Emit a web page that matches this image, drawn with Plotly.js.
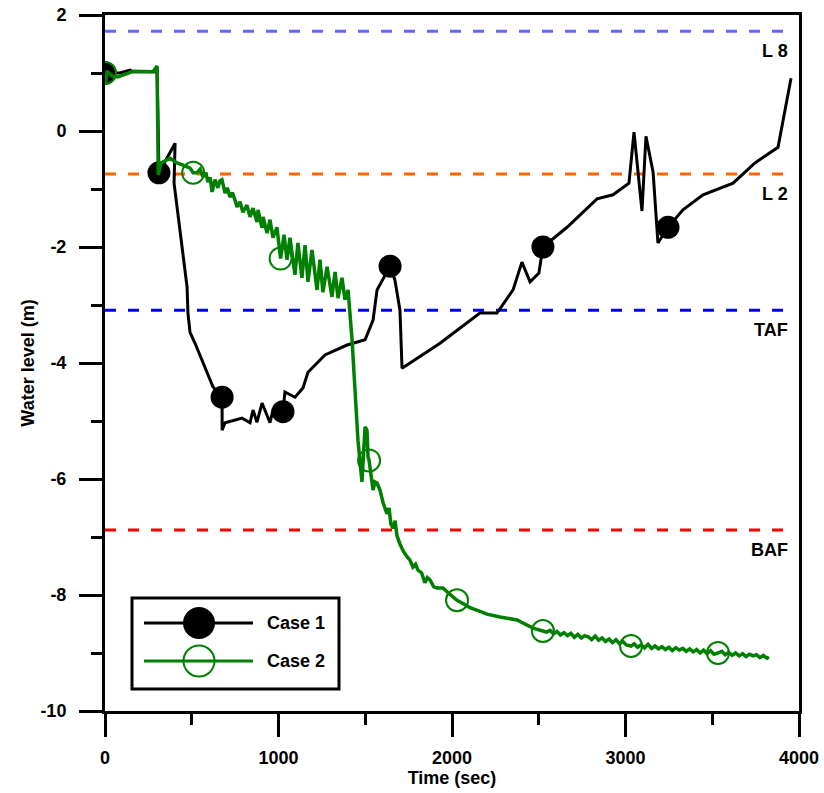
<!DOCTYPE html>
<html>
<head>
<meta charset="utf-8">
<script src="https://cdn.plot.ly/plotly-3.0.1.min.js"></script>
<style>
  html, body { margin: 0; padding: 0; background: #ffffff; }
  #chart { width: 824px; height: 793px; }
</style>
</head>
<body>
<div id="chart"></div>
<script>
// Case 1: water level history (time in s, level in m)
const caseOneTime = [0, 86, 144, 161, 288, 300, 311, 404, 398, 432, 473, 478, 490, 519, 622, 675, 675, 692, 790, 836, 853, 876, 905, 951, 968, 1026, 1037, 1095, 1141, 1170, 1268, 1395, 1499, 1545, 1568, 1643, 1671, 1700, 1712, 1931, 2161, 2259, 2352, 2403, 2450, 2501, 2513, 2524, 2663, 2836, 2928, 3020, 3049, 3095, 3118, 3159, 3187, 3245, 3331, 3447, 3620, 3746, 3879, 3954];
const caseOneLevel = [1.00, 1.00, 1.05, 1.02, 1.02, 1.09, -0.72, -0.21, -0.90, -1.76, -2.69, -3.14, -3.47, -3.66, -4.41, -4.59, -5.16, -5.03, -4.95, -5.03, -4.81, -5.02, -4.69, -5.03, -4.81, -4.84, -4.50, -4.59, -4.43, -4.16, -3.86, -3.69, -3.60, -3.26, -2.74, -2.33, -2.57, -3.09, -4.09, -3.66, -3.14, -3.14, -2.74, -2.26, -2.60, -2.45, -2.17, -2.00, -1.66, -1.17, -1.10, -0.90, -0.02, -1.38, -0.09, -0.71, -1.93, -1.66, -1.36, -1.10, -0.90, -0.55, -0.28, 0.91];
const caseOneMarkerTimes = [0, 311, 675, 1026, 1643, 2524, 3245];

// Case 2: water level history
const caseTwoTime = [0, 3, 11, 40, 75, 161, 277, 300, 307, 323, 375, 415, 450, 490, 508, 530, 548, 565, 580, 594, 606, 617, 634, 651, 662, 674, 692, 705, 720, 734, 749, 761, 778, 795, 818, 836, 853, 876, 882, 905, 911, 934, 951, 968, 991, 1012, 1032, 1049, 1066, 1095, 1112, 1135, 1153, 1170, 1193, 1222, 1239, 1256, 1280, 1308, 1326, 1343, 1366, 1383, 1401, 1412, 1424, 1441, 1458, 1481, 1487, 1499, 1510, 1516, 1522, 1527, 1539, 1545, 1556, 1568, 1585, 1602, 1625, 1637, 1648, 1660, 1672, 1683, 1700, 1720, 1741, 1758, 1775, 1790, 1804, 1825, 1844, 1858, 1873, 1895, 1914, 1948, 1985, 2029, 2065, 2104, 2150, 2202, 2277, 2375, 2420, 2467, 2524, 2545, 2565, 2585, 2605, 2625, 2645, 2665, 2685, 2705, 2725, 2745, 2765, 2785, 2805, 2825, 2845, 2865, 2885, 2905, 2925, 2945, 2965, 2985, 3005, 3032, 3050, 3070, 3090, 3110, 3130, 3150, 3170, 3190, 3210, 3230, 3250, 3270, 3290, 3310, 3330, 3350, 3370, 3390, 3410, 3430, 3450, 3470, 3490, 3510, 3533, 3555, 3575, 3595, 3615, 3635, 3655, 3675, 3695, 3715, 3735, 3755, 3775, 3795, 3815, 3827];
const caseTwoLevel = [1.00, 0.83, 1.03, 0.95, 0.93, 1.03, 1.02, 1.12, -0.76, -0.55, -0.47, -0.55, -0.59, -0.64, -0.72, -0.72, -0.66, -0.79, -0.72, -0.88, -0.80, -1.05, -0.84, -0.98, -0.86, -0.84, -1.07, -0.98, -1.14, -1.06, -1.19, -1.31, -1.22, -1.40, -1.28, -1.48, -1.33, -1.57, -1.36, -1.67, -1.48, -1.76, -1.53, -1.84, -1.66, -2.20, -1.79, -2.22, -1.84, -2.48, -1.93, -2.53, -1.97, -2.60, -2.05, -2.74, -2.22, -2.78, -2.34, -2.86, -2.43, -2.88, -2.53, -2.91, -2.74, -3.09, -3.60, -4.47, -5.33, -6.05, -5.72, -5.10, -5.16, -5.62, -5.68, -5.79, -6.07, -6.19, -6.05, -6.07, -6.19, -6.40, -6.60, -6.50, -6.78, -6.85, -6.72, -6.98, -7.12, -7.25, -7.34, -7.40, -7.52, -7.47, -7.57, -7.62, -7.79, -7.70, -7.74, -7.86, -7.88, -7.88, -7.98, -8.09, -8.15, -8.22, -8.27, -8.33, -8.38, -8.43, -8.50, -8.57, -8.62, -8.64, -8.61, -8.67, -8.63, -8.69, -8.65, -8.70, -8.66, -8.73, -8.68, -8.74, -8.70, -8.72, -8.77, -8.71, -8.78, -8.74, -8.80, -8.76, -8.82, -8.77, -8.84, -8.80, -8.86, -8.88, -8.84, -8.90, -8.86, -8.91, -8.85, -8.92, -8.88, -8.93, -8.89, -8.94, -8.90, -8.96, -8.91, -8.95, -8.92, -8.97, -8.93, -8.98, -8.94, -9.00, -8.95, -9.01, -8.96, -9.02, -9.00, -8.97, -9.03, -8.99, -9.04, -9.00, -9.05, -9.01, -9.06, -9.02, -9.05, -9.03, -9.08, -9.04, -9.09, -9.07];
const caseTwoMarkerTimes = [0, 508, 1012, 1522, 2029, 2524, 3032, 3533];

// Reference levels
const refNames = ['L 8', 'L 2', 'TAF', 'BAF'];
const refLevels = [1.72, -0.74, -3.09, -6.88];
const refColors = ['#6666ff', '#ff6600', '#0000ff', '#ff0000'];
const refSpan = [0, 3940];

const seriesNames = ['Case 1', 'Case 2'];
const xTickVals = [0, 1000, 2000, 3000, 4000];
const yTickVals = [-10, -8, -6, -4, -2, 0, 2];
const yTickText = ['-10', '-8', '-6', '-4', '-2', '0', '2'];

const GREEN = '#008000';
const FONT = { family: 'Liberation Sans, Arial, sans-serif', size: 18, color: '#000000', weight: 'bold' };

function pick(times, levels, wanted) {
  const xs = [], ys = [];
  wanted.forEach(t => { const i = times.indexOf(t); xs.push(times[i]); ys.push(levels[i]); });
  return { x: xs, y: ys };
}

const traces = [];
refLevels.forEach((lv, i) => {
  traces.push({
    type: 'scatter', mode: 'lines', name: refNames[i], showlegend: false, hoverinfo: 'skip',
    x: refSpan, y: [lv, lv],
    line: { color: refColors[i], width: 3, dash: '11px,12px' }
  });
});

const m1 = pick(caseOneTime, caseOneLevel, caseOneMarkerTimes);
const m2 = pick(caseTwoTime, caseTwoLevel, caseTwoMarkerTimes);

traces.push({ type: 'scatter', mode: 'lines', name: seriesNames[0], showlegend: false,
  x: caseOneTime, y: caseOneLevel, line: { color: '#000000', width: 3 } });
traces.push({ type: 'scatter', mode: 'markers', name: seriesNames[0], showlegend: false,
  x: m1.x, y: m1.y, marker: { symbol: 'circle', size: 23, color: '#000000', line: { width: 0 } } });
traces.push({ type: 'scatter', mode: 'lines', name: seriesNames[1], showlegend: false,
  x: caseTwoTime, y: caseTwoLevel, line: { color: GREEN, width: 3.5 } });
traces.push({ type: 'scatter', mode: 'markers', name: seriesNames[1], showlegend: false,
  x: m2.x, y: m2.y, marker: { symbol: 'circle-open', size: 22, color: GREEN, line: { width: 2, color: GREEN } } });

// plot area geometry (pixels) used to place the hand-built legend box
const M = { l: 105, r: 25, t: 15, b: 82 };
const W = 824, H = 793;
const PW = W - M.l - M.r, PH = H - M.t - M.b;
const px = v => (v - M.l) / PW;
const py = v => (H - M.b - v) / PH;

const shapes = [
  { type: 'rect', xref: 'paper', yref: 'paper', x0: px(132), x1: px(339), y0: py(689), y1: py(598),
    line: { color: '#000000', width: 3 }, fillcolor: '#ffffff', layer: 'above' },
  { type: 'line', xref: 'paper', yref: 'paper', x0: px(144), x1: px(253), y0: py(623), y1: py(623),
    line: { color: '#000000', width: 3 }, layer: 'above' },
  { type: 'circle', xref: 'paper', yref: 'paper', xsizemode: 'pixel', ysizemode: 'pixel',
    xanchor: px(199), yanchor: py(623), x0: -16, x1: 16, y0: -16, y1: 16,
    fillcolor: '#000000', line: { color: '#000000', width: 0 }, layer: 'above' },
  { type: 'line', xref: 'paper', yref: 'paper', x0: px(144), x1: px(253), y0: py(661), y1: py(661),
    line: { color: GREEN, width: 3 }, layer: 'above' },
  { type: 'circle', xref: 'paper', yref: 'paper', xsizemode: 'pixel', ysizemode: 'pixel',
    xanchor: px(199), yanchor: py(661), x0: -15.5, x1: 15.5, y0: -15.5, y1: 15.5,
    fillcolor: 'rgba(0,0,0,0)', line: { color: GREEN, width: 2 }, layer: 'above' }
];

const annotations = [
  { xref: 'paper', yref: 'paper', x: px(265), y: py(623), xanchor: 'left', yanchor: 'middle',
    text: seriesNames[0], showarrow: false, font: FONT },
  { xref: 'paper', yref: 'paper', x: px(265), y: py(661), xanchor: 'left', yanchor: 'middle',
    text: seriesNames[1], showarrow: false, font: FONT }
];
refLevels.forEach((lv, i) => {
  annotations.push({ xref: 'x', yref: 'y', x: 3950, y: lv, xanchor: 'right', yanchor: 'top',
    yshift: -8, text: refNames[i], showarrow: false, font: FONT });
});

const axisCommon = {
  showgrid: false, zeroline: false, showline: true, mirror: true,
  linecolor: '#000000', linewidth: 3, ticks: 'outside', ticklen: 23, tickwidth: 3,
  tickcolor: '#000000', tickfont: FONT
};

const layout = {
  width: W, height: H,
  margin: M,
  paper_bgcolor: '#ffffff', plot_bgcolor: '#ffffff',
  showlegend: false,
  xaxis: Object.assign({}, axisCommon, {
    range: [0, 4000], tickvals: xTickVals, ticklabelstandoff: 5,
    minor: { tickvals: [500, 1500, 2500, 3500], ticklen: 11, tickwidth: 3, tickcolor: '#000000', ticks: 'outside' },
    title: { text: 'Time (sec)', font: FONT, standoff: 4 }
  }),
  yaxis: Object.assign({}, axisCommon, {
    range: [-10, 2], tickvals: yTickVals, ticktext: yTickText, ticklabelstandoff: 9,
    minor: { tickvals: [-9, -7, -5, -3, -1, 1], ticklen: 11, tickwidth: 3, tickcolor: '#000000', ticks: 'outside' },
    title: { text: 'Water level (m)', font: FONT, standoff: 2 }
  }),
  shapes: shapes,
  annotations: annotations
};

Plotly.newPlot('chart', traces, layout, { staticPlot: true });
</script>
</body>
</html>
